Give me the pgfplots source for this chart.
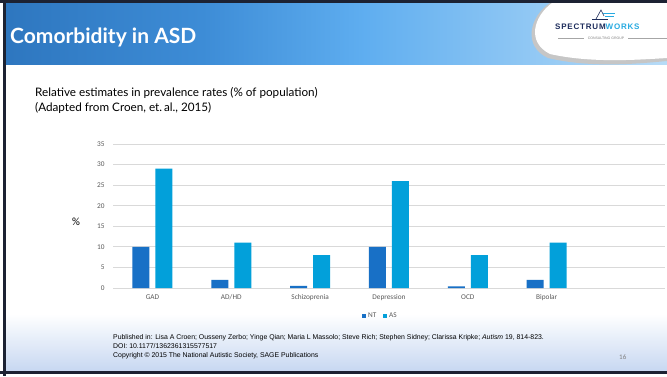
\documentclass[border=0pt]{standalone}
\usepackage{pgfplots}
\pgfplotsset{compat=1.18}
\usepackage{fontspec}
\setmainfont{Carlito}
\newfontfamily\lato{Lato}
\newfontfamily\arial{Liberation Sans}
\newfontfamily\logofont[LetterSpace=10]{Liberation Sans}
\definecolor{nt}{HTML}{1870C6}
\definecolor{as}{HTML}{02A0DA}
\definecolor{gridc}{HTML}{D9D9D9}
\definecolor{tickc}{HTML}{595959}
\definecolor{footb}{HTML}{C6D7F1}
\definecolor{framec}{HTML}{1C2233}
\definecolor{navy}{HTML}{1E2D5C}
\definecolor{cyanl}{HTML}{27AAE1}
\pgfdeclarehorizontalshading{hdr}{100bp}{
  rgb(0bp)=(0.09,0.34,0.61);
  rgb(10bp)=(0.12,0.38,0.66);
  rgb(40bp)=(0.24,0.55,0.84);
  rgb(52bp)=(0.37,0.68,0.94);
  rgb(68bp)=(0.62,0.81,0.96);
  rgb(82bp)=(0.82,0.91,0.98);
  rgb(100bp)=(0.93,0.96,0.99)}
\begin{document}
\begin{tikzpicture}[x=1pt,y=1pt]
\useasboundingbox (0,0) rectangle (667,376);
\fill[white] (0,0) rectangle (667,376);
% footer gradient
\shade[top color=white,bottom color=footb] (5,4) rectangle (667,62);
% header gradient
\shade[shading=hdr] (5,312) rectangle (667,373);
% logo
\fill[gray!45] (550,373) .. controls (530,360) and (522,330) .. (548,318) .. controls (590,308) and (635,312) .. (667,315) -- (667,373) -- cycle;
\fill[white] (552,373) .. controls (534,360) and (526,334) .. (550,322) .. controls (590,313) and (635,316) .. (667,318) -- (667,373) -- cycle;
\node[anchor=base west, inner sep=0, font=\logofont\bfseries\fontsize{8}{9}\selectfont] at (555,346) {\textcolor{navy}{SPECTRUM}\textcolor{cyanl}{WORKS}};
\draw[navy, line width=0.8pt] (592,357) -- (608,357);
\draw[navy, line width=0.6pt] (596,357) -- (601,366) -- (604,360);
\draw[cyanl, line width=0.7pt] (603,363) -- (615,363);
\draw[cyanl, line width=0.7pt] (605,360) -- (614,360);
\draw[gray!70, line width=0.4pt] (558,338) -- (584,338);
\draw[gray!70, line width=0.4pt] (628,338) -- (667,338);
\node[anchor=center, inner sep=0, text=gray, font=\arial\fontsize{3.5}{4}\selectfont] at (606,338) {CONSULTING GROUP};
% frame
\fill[framec] (0,373) rectangle (667,376);
\fill[framec] (3,0) rectangle (6,376);
\fill[framec] (0,2) rectangle (667,5);
% title
\node[anchor=base west, inner sep=0, text=white, font=\lato\bfseries\fontsize{21}{24}\selectfont] at (10,333) {Comorbidity in ASD};
% subtitle
\node[anchor=base west, inner sep=0, font=\lato\fontsize{11.7}{14}\selectfont] at (35,280) {Relative estimates in prevalence rates (\% of population)};
\node[anchor=base west, inner sep=0, font=\lato\fontsize{11.7}{14}\selectfont] at (35,265) {(Adapted from Croen, et.\,al., 2015)};
% y label
\node[font=\fontsize{11}{13}\selectfont] at (76,154) {\%};
\begin{axis}[
  at={(113pt,88pt)}, anchor=south west,
  width=552pt, height=144pt, scale only axis,
  xmin=-0.5, xmax=6.5, ymin=0, ymax=35,
  ybar, bar width=17pt,
  xtick={0,1,2,3,4,5},
  xticklabels={GAD,AD/HD,Schizoprenia,Depression,OCD,Bipolar},
  ytick={0,5,...,35},
  ymajorgrids, grid style={gridc, line width=0.8pt},
  axis line style={draw=none},
  major tick length=0pt,
  tick label style={font=\fontsize{7.3}{8}\selectfont, text=tickc},
  yticklabel style={xshift=-5pt},
  xticklabel style={yshift=-3pt},
  /pgf/number format/assume math mode=true,
  legend columns=2,
  legend style={at={(0.484,0)}, anchor=center, yshift=-28pt, draw=none, fill=none,
    font=\fontsize{7.3}{8}\selectfont, text=tickc, /tikz/every even column/.append style={column sep=4pt}},
  legend image code/.code={\fill[#1] (0pt,-2.3pt) rectangle (4.6pt,2.3pt);},
]
\addplot[fill=nt, draw=none, bar shift=-11.5pt] coordinates {(0,10) (1,2) (2,0.5) (3,10) (4,0.4) (5,2)};
\addplot[fill=as, draw=none, bar shift=11.5pt] coordinates {(0,29) (1,11) (2,8) (3,26) (4,8) (5,11)};
\legend{NT,AS}
\end{axis}
% footer text
\node[anchor=base west, inner sep=0, font=\arial\fontsize{6.9}{8}\selectfont] at (113,37) {Published in: Lisa A Croen; Ousseny Zerbo; Yinge Qian; Maria L Massolo; Steve Rich; Stephen Sidney; Clarissa Kripke; \textit{Autism} 19, 814-823.};
\node[anchor=base west, inner sep=0, font=\arial\fontsize{6.9}{8}\selectfont] at (113,28) {DOI: 10.1177/1362361315577517};
\node[anchor=base west, inner sep=0, font=\arial\fontsize{6.9}{8}\selectfont] at (113,19) {Copyright \textcopyright{} 2015 The National Autistic Society, SAGE Publications};
\node[anchor=base west, inner sep=0, text=gray, font=\fontsize{7}{8}\selectfont] at (619,17) {16};
\end{tikzpicture}
\end{document}
